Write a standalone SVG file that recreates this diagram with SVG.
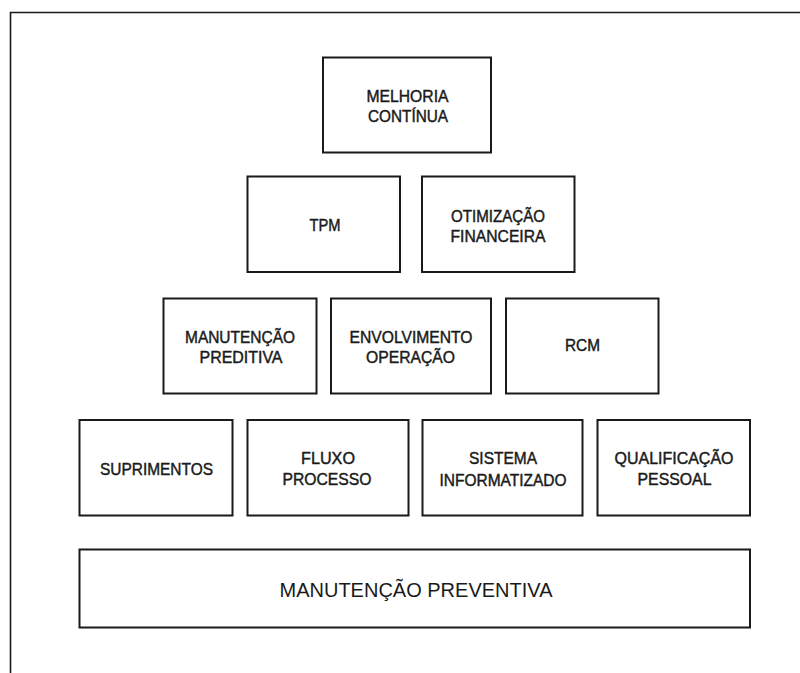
<svg xmlns="http://www.w3.org/2000/svg" width="800" height="673" viewBox="0 0 800 673">
  <style>
    .box { fill: #ffffff; stroke: #1a1a1a; stroke-width: 2; }
    .frame { fill: none; stroke: #1a1a1a; stroke-width: 1.6; }
    .lbl { font-family: "Liberation Sans", Arial, sans-serif; font-size: 17px; fill: #1a1a1a; stroke: #1a1a1a; stroke-width: 0.45; text-anchor: middle; }
    .base { font-family: "Liberation Sans", Arial, sans-serif; font-size: 21px; fill: #1a1a1a; text-anchor: middle; }
  </style>
  <rect width="800" height="673" fill="#ffffff"/>

  <!-- page frame: top and left edges -->
  <path class="frame" d="M10.5 673 V12.5 H800"/>

  <g id="connectors"></g>

  <!-- level 1 -->
  <g id="melhoria-continua">
    <rect class="box" x="323" y="57.5" width="168" height="95"/>
    <text class="lbl" x="407.5" y="102" textLength="82" lengthAdjust="spacingAndGlyphs">MELHORIA</text>
    <text class="lbl" x="408" y="121.5" textLength="80" lengthAdjust="spacingAndGlyphs">CONTÍNUA</text>
  </g>

  <!-- level 2 -->
  <g id="tpm">
    <rect class="box" x="247.5" y="176.5" width="152.5" height="95.5"/>
    <text class="lbl" x="325" y="230.5" font-size="14" textLength="31" lengthAdjust="spacingAndGlyphs">TPM</text>
  </g>
  <g id="otimizacao-financeira">
    <rect class="box" x="422" y="176.5" width="152.5" height="95.5"/>
    <text class="lbl" x="498" y="222" textLength="94" lengthAdjust="spacingAndGlyphs">OTIMIZAÇÃO</text>
    <text class="lbl" x="498" y="241.5" textLength="95" lengthAdjust="spacingAndGlyphs">FINANCEIRA</text>
  </g>

  <!-- level 3 -->
  <g id="manutencao-preditiva">
    <rect class="box" x="163.5" y="298.5" width="153" height="95"/>
    <text class="lbl" x="240" y="343" textLength="110" lengthAdjust="spacingAndGlyphs">MANUTENÇÃO</text>
    <text class="lbl" x="241" y="362.5" textLength="83" lengthAdjust="spacingAndGlyphs">PREDITIVA</text>
  </g>
  <g id="envolvimento-operacao">
    <rect class="box" x="331" y="298.5" width="160" height="95"/>
    <text class="lbl" x="411" y="343" textLength="123" lengthAdjust="spacingAndGlyphs">ENVOLVIMENTO</text>
    <text class="lbl" x="410.5" y="362.5" textLength="89" lengthAdjust="spacingAndGlyphs">OPERAÇÃO</text>
  </g>
  <g id="rcm">
    <rect class="box" x="506" y="298.5" width="152.5" height="95"/>
    <text class="lbl" x="582.5" y="351" textLength="35" lengthAdjust="spacingAndGlyphs">RCM</text>
  </g>

  <!-- level 4 -->
  <g id="suprimentos">
    <rect class="box" x="79.5" y="420" width="153" height="95.5"/>
    <text class="lbl" x="156.5" y="475" textLength="113" lengthAdjust="spacingAndGlyphs">SUPRIMENTOS</text>
  </g>
  <g id="fluxo-processo">
    <rect class="box" x="247.5" y="420" width="161" height="95.5"/>
    <text class="lbl" x="328" y="463.5" textLength="54" lengthAdjust="spacingAndGlyphs">FLUXO</text>
    <text class="lbl" x="327" y="485" textLength="89" lengthAdjust="spacingAndGlyphs">PROCESSO</text>
  </g>
  <g id="sistema-informatizado">
    <rect class="box" x="422.5" y="420" width="160" height="95.5"/>
    <text class="lbl" x="503" y="463.5" textLength="68" lengthAdjust="spacingAndGlyphs">SISTEMA</text>
    <text class="lbl" x="503" y="486" textLength="127" lengthAdjust="spacingAndGlyphs">INFORMATIZADO</text>
  </g>
  <g id="qualificacao-pessoal">
    <rect class="box" x="597.5" y="420" width="152.5" height="95.5"/>
    <text class="lbl" x="674" y="463.5" textLength="119" lengthAdjust="spacingAndGlyphs">QUALIFICAÇÃO</text>
    <text class="lbl" x="674.5" y="485" textLength="74" lengthAdjust="spacingAndGlyphs">PESSOAL</text>
  </g>

  <!-- foundation -->
  <g id="manutencao-preventiva">
    <rect class="box" x="79.5" y="549.5" width="670.5" height="78"/>
    <text class="base" x="416" y="597" textLength="273" lengthAdjust="spacingAndGlyphs">MANUTENÇÃO PREVENTIVA</text>
  </g>
</svg>
